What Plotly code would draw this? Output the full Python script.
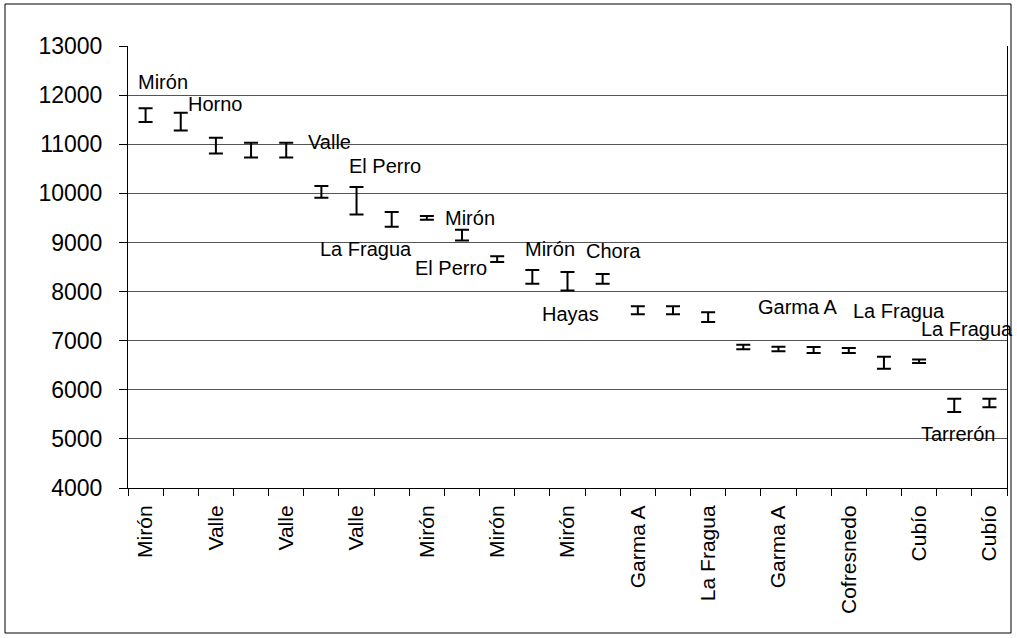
import plotly.graph_objects as go

# Radiocarbon-style dates with their uncertainty, one per sample
ages = [11590, 11460, 10970, 10880, 10880, 10030, 9850, 9470, 9500, 9150,
        8660, 8300, 8210, 8260, 7620, 7620, 7480, 6870, 6830, 6810,
        6800, 6550, 6580, 5680, 5730]
errors = [140, 180, 160, 150, 150, 120, 280, 150, 40, 110,
          60, 140, 190, 100, 80, 80, 100, 45, 45, 60,
          50, 120, 35, 135, 85]

# Axis labels shown under every other sample
axis_labels = ["Mirón", "Valle", "Valle", "Valle", "Mirón", "Mirón", "Mirón",
               "Garma A", "La Fragua", "Garma A", "Cofresnedo", "Cubío", "Cubío"]

# Site names written next to individual samples: (text, sample number, dx, dy)
site_notes = [
    ("Mirón", 1, 17, -33),
    ("Horno", 2, 34, -18),
    ("Valle", 5, 43, -8),
    ("El Perro", 7, 28, -35),
    ("La Fragua", 8, -26, 30),
    ("Mirón", 9, 43, 0),
    ("El Perro", 11, -46, 9),
    ("Mirón", 12, 18, -28),
    ("Hayas", 13, 3, 33),
    ("Chora", 14, 11, -28),
    ("Garma A", 19, 20, -42),
    ("La Fragua", 22, 15, -52),
    ("La Fragua", 23, 48, -32),
    ("Tarrerón", 24, 4, 29),
]

W, H = 1017, 638
ML, MR, MT, MB = 128, 10, 46, 150
PW, PH = W - ML - MR, H - MT - MB
FONT = "Liberation Sans, Arial, sans-serif"

n = len(ages)
xs = list(range(1, n + 1))

fig = go.Figure()
fig.add_trace(go.Scatter(
    x=xs, y=ages, mode="markers",
    marker=dict(size=1, color="rgba(0,0,0,0)"),
    error_y=dict(type="data", array=errors, visible=True,
                 color="black", thickness=2, width=7),
    showlegend=False, hoverinfo="skip",
))

annotations = []
for text, idx, dx, dy in site_notes:
    annotations.append(dict(
        x=idx, y=ages[idx - 1], xref="x", yref="y", text=text,
        showarrow=False, xanchor="center", yanchor="middle",
        xshift=dx, yshift=-dy,
        font=dict(family=FONT, size=20, color="black"),
    ))


def paper_x(px):
    return (px - ML) / PW


def paper_y(py):
    return (H - MB - py) / PH


fig.update_layout(
    width=W, height=H,
    margin=dict(l=ML, r=MR, t=MT, b=MB, pad=0),
    paper_bgcolor="white", plot_bgcolor="white",
    font=dict(family=FONT, size=20, color="black"),
    annotations=annotations,
    shapes=[dict(type="rect", xref="paper", yref="paper",
                 x0=paper_x(5), x1=paper_x(1011),
                 y0=paper_y(633), y1=paper_y(4),
                 line=dict(color="black", width=1), layer="below")],
    xaxis=dict(
        range=[0.5, n + 0.5],
        tickvals=xs[::2], ticktext=axis_labels, tickangle=-90,
        ticks="", showgrid=False, zeroline=False,
        showline=True, linecolor="black", linewidth=1,
        minor=dict(tickvals=[i + 0.5 for i in range(0, n + 1)],
                   ticks="outside", ticklen=7, tickcolor="black",
                   showgrid=False),
        tickfont=dict(family=FONT, size=21, color="black"),
        ticklabelstandoff=8,
    ),
    yaxis=dict(
        range=[4000, 13000], dtick=1000, tick0=4000, tickformat="d",
        ticks="outside", ticklen=8, tickcolor="black",
        showgrid=True, gridcolor="#555555", gridwidth=1,
        zeroline=False, showline=True, linecolor="black", linewidth=1,
        mirror=True,
        tickfont=dict(family=FONT, size=23, color="black"),
        ticklabelstandoff=12,
    ),
)

fig.write_html("out.html")
